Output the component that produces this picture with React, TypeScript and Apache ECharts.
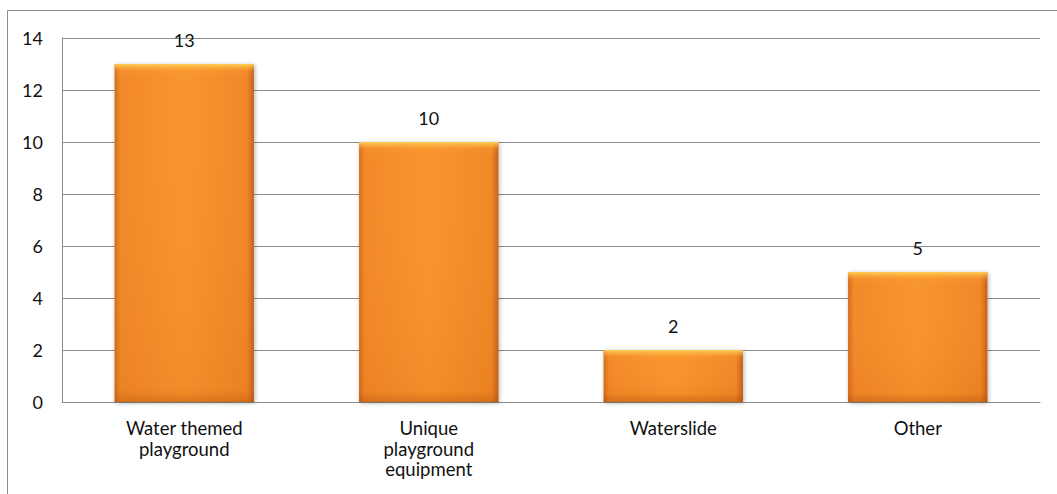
import React, { useEffect, useRef } from "react";
import * as echarts from "echarts";

const categories = ["Water themed\nplayground", "Unique\nplayground\nequipment", "Waterslide", "Other"];
const values = [13, 10, 2, 5];
const yTicks = { min: 0, max: 14, interval: 2 };

export default function App() {
  const ref = useRef<HTMLDivElement>(null);
  useEffect(() => {
    const chart = echarts.init(ref.current!, null, { renderer: "svg" });
    const font = "Lato";
    const pxPerUnit = 26;
    const sideGrad = new echarts.graphic.LinearGradient(0, 0, 1, 0, [
      { offset: 0, color: "#d26b1c" },
      { offset: 0.04, color: "#f2892a" },
      { offset: 0.5, color: "#f8962f" },
      { offset: 0.95, color: "#f08828" },
      { offset: 1, color: "#c4601a" },
    ]);
    const overlayData = values.map((v) => {
      const h = v * pxPerUnit;
      const t = Math.min(0.45, 7 / h);
      const b = Math.max(0.55, 1 - 6 / h);
      return {
        value: v,
        itemStyle: {
          color: new echarts.graphic.LinearGradient(0, 0, 0, 1, [
            { offset: 0, color: "rgba(255,210,90,0.95)" },
            { offset: t * 0.5, color: "rgba(255,190,70,0.6)" },
            { offset: t, color: "rgba(255,170,60,0.15)" },
            { offset: Math.min(0.5, t * 2), color: "rgba(255,170,60,0)" },
            { offset: b * 0.98, color: "rgba(190,80,0,0.12)" },
            { offset: b, color: "rgba(180,75,0,0.25)" },
            { offset: 1, color: "rgba(150,60,0,0.35)" },
          ]),
        },
      };
    });
    chart.setOption({
      animation: false,
      backgroundColor: "#ffffff",
      graphic: [
        {
          type: "rect",
          shape: { x: 7.5, y: 10.5, width: 1100, height: 600 },
          style: { fill: "none", stroke: "#8c8c8c", lineWidth: 1 },
          silent: true,
          z: -1,
        },
      ],
      grid: { left: 62, right: 17, top: 38, bottom: 92, containLabel: false },
      xAxis: {
        type: "category",
        data: categories,
        axisLine: { show: true, lineStyle: { color: "#8c8c8c", width: 1 } },
        axisTick: { show: false },
        axisLabel: {
          color: "#111111",
          fontFamily: font,
          fontSize: 18.5,
          lineHeight: 20.5,
          margin: 16,
          interval: 0,
        },
      },
      yAxis: {
        type: "value",
        min: yTicks.min,
        max: yTicks.max,
        interval: yTicks.interval,
        axisLine: { show: true, lineStyle: { color: "#8c8c8c", width: 1 } },
        axisTick: { show: false },
        splitLine: { show: true, lineStyle: { color: "#8c8c8c", width: 1 } },
        axisLabel: { color: "#111111", fontFamily: font, fontSize: 18, margin: 19 },
      },
      series: [
        {
          type: "bar",
          data: values,
          barWidth: "57%",
          itemStyle: {
            color: sideGrad,
            shadowColor: "rgba(0,0,0,0.3)",
            shadowBlur: 4,
            shadowOffsetX: 1,
            shadowOffsetY: 1,
          },
          label: {
            show: true,
            position: "top",
            distance: 15,
            color: "#111111",
            fontFamily: font,
            fontSize: 18,
          },
        },
        {
          type: "bar",
          data: overlayData,
          barWidth: "57%",
          barGap: "-100%",
          silent: true,
          label: { show: false },
        },
      ],
    });
    return () => chart.dispose();
  }, []);
  return <div ref={ref} style={{ width: 1057, height: 494, position: "absolute", left: 0, top: 0 }} />;
}
